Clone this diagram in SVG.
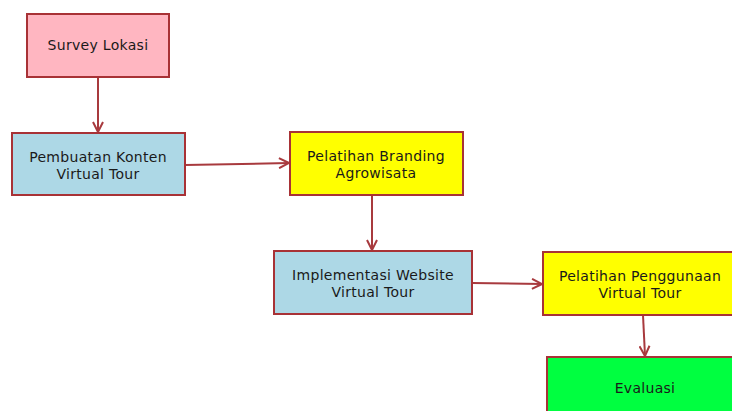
<svg xmlns="http://www.w3.org/2000/svg" width="732" height="411" viewBox="0 0 732 411">
<defs>
<style>
.box{stroke:#a83236;stroke-width:2}
.pink{fill:#ffb6c1}
.blue{fill:#add8e6}
.yellow{fill:#ffff00}
.green{fill:#00ff40}
.lbl{font-family:"DejaVu Sans",Verdana,sans-serif;font-size:14px;letter-spacing:0.3px;fill:#1a1a1a;text-anchor:middle}
.edge{stroke:#a83a3e;stroke-width:2;fill:none}
</style>
<marker id="arr" viewBox="0 0 12 12" refX="11" refY="6" markerWidth="12" markerHeight="12" markerUnits="userSpaceOnUse" orient="auto">
<polyline points="1,1 11,6 1,11" fill="none" stroke="#a83a3e" stroke-width="2"/>
</marker>
</defs>
<rect width="732" height="411" fill="#ffffff"/>
<g id="connectors">
<line class="edge" x1="98" y1="77" x2="98" y2="132" marker-end="url(#arr)"/>
<line class="edge" x1="185" y1="165" x2="289" y2="163" marker-end="url(#arr)"/>
<line class="edge" x1="372" y1="195" x2="372" y2="250" marker-end="url(#arr)"/>
<line class="edge" x1="472" y1="283" x2="542" y2="284" marker-end="url(#arr)"/>
<line class="edge" x1="643" y1="315" x2="645" y2="356" marker-end="url(#arr)"/>
</g>
<g id="survey">
<rect class="box pink" x="27" y="14" width="142" height="63"/>
<text class="lbl" x="98" y="50">Survey Lokasi</text>
</g>
<g id="pembuatan">
<rect class="box blue" x="12" y="133" width="173" height="62"/>
<text class="lbl" x="98" y="162">Pembuatan Konten</text>
<text class="lbl" x="98" y="179">Virtual Tour</text>
</g>
<g id="branding">
<rect class="box yellow" x="290" y="132" width="173" height="63"/>
<text class="lbl" x="376" y="161">Pelatihan Branding</text>
<text class="lbl" x="376" y="178">Agrowisata</text>
</g>
<g id="implementasi">
<rect class="box blue" x="274" y="251" width="198" height="63"/>
<text class="lbl" x="373" y="280">Implementasi Website</text>
<text class="lbl" x="373" y="297">Virtual Tour</text>
</g>
<g id="penggunaan">
<rect class="box yellow" x="543" y="252" width="196" height="63"/>
<text class="lbl" x="640" y="281">Pelatihan Penggunaan</text>
<text class="lbl" x="640" y="298">Virtual Tour</text>
</g>
<g id="evaluasi">
<rect class="box green" x="547" y="357" width="196" height="70"/>
<text class="lbl" x="645" y="393">Evaluasi</text>
</g>
</svg>
